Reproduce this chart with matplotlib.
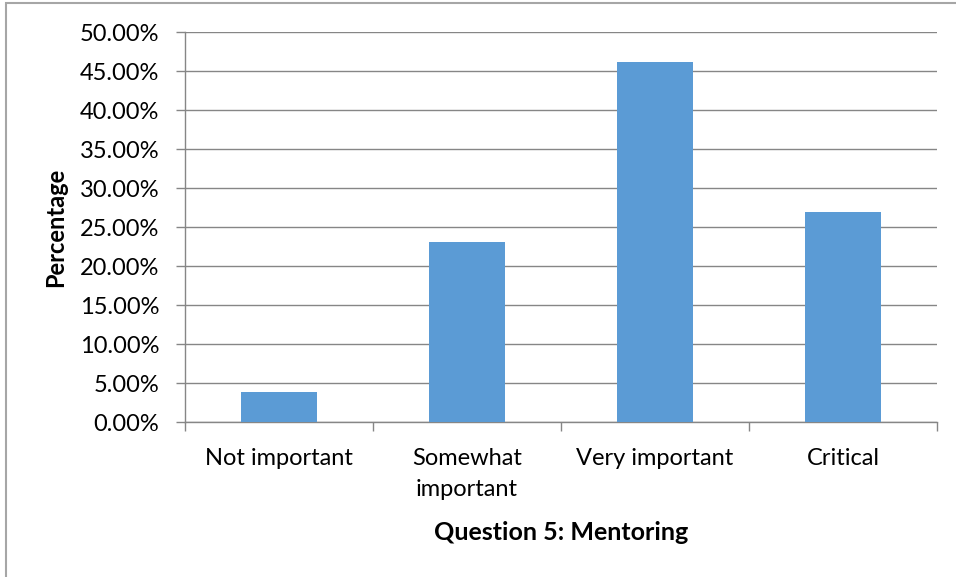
import matplotlib.pyplot as plt
from matplotlib.patches import Rectangle
from matplotlib.ticker import FuncFormatter, MultipleLocator

categories = ["Not important", "Somewhat\nimportant", "Very important", "Critical"]
percent = [3.85, 23.08, 46.15, 26.92]

plt.rcParams["font.family"] = ["Lato", "DejaVu Sans"]

fig = plt.figure(figsize=(9.56, 5.77), dpi=100)
ax = fig.add_axes([0.1935, 0.2686, 0.9801 - 0.1935, 0.9445 - 0.2686])

pos = list(range(len(categories)))
ax.bar(pos, percent, width=0.4, color="#5B9BD5", zorder=3)

ax.set_xlim(-0.5, len(categories) - 0.5)
ax.set_ylim(0, 50)
ax.yaxis.set_major_locator(MultipleLocator(5))
ax.yaxis.set_major_formatter(FuncFormatter(lambda v, _: f"{v:.2f}%"))
ax.grid(axis="y", color="#868686", linewidth=1, zorder=0)

# category labels centred, ticks on the boundaries
ax.set_xticks(pos)
ax.set_xticklabels(categories, fontsize=17, linespacing=1.55)
ax.tick_params(axis="x", length=0, pad=19)
ax.set_xticks([p - 0.5 for p in pos] + [len(pos) - 0.5], minor=True)
ax.tick_params(axis="x", which="minor", length=6.5, color="#868686", width=1)
ax.tick_params(axis="y", labelsize=17, length=6.5, color="#868686", width=1, pad=12)

for side in ["top", "right"]:
    ax.spines[side].set_visible(False)
for side in ["left", "bottom"]:
    ax.spines[side].set_color("#868686")
    ax.spines[side].set_linewidth(1)

ax.set_ylabel("Percentage", fontsize=17, fontweight="bold", labelpad=9)
ax.set_xlabel("Question 5: Mentoring", fontsize=18, fontweight="bold", labelpad=15)

# outer chart frame (cut at the right and bottom)
fig.patches.append(Rectangle((5.5 / 956, -0.1), 1.2, 1.1 - 2.5 / 577,
                             transform=fig.transFigure, fill=False,
                             edgecolor="#A6A6A6", linewidth=1.5))

fig.savefig("out.png", dpi=100)
